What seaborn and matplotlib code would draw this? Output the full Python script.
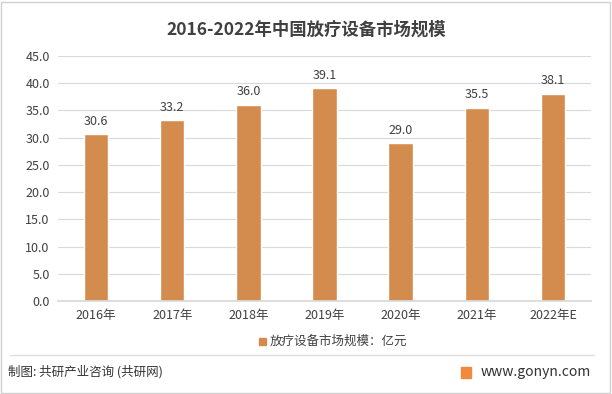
import matplotlib
matplotlib.use("Agg")
import matplotlib.pyplot as plt
import seaborn as sns
import pandas as pd
from matplotlib.patches import Rectangle
from matplotlib.lines import Line2D

categories = ["2016年", "2017年", "2018年", "2019年", "2020年", "2021年", "2022年E"]
values = [30.6, 33.2, 36.0, 39.1, 29.0, 35.5, 38.1]
yticks = [0, 5, 10, 15, 20, 25, 30, 35, 40, 45]
series_name = "放疗设备市场规模：亿元"
title = "2016-2022年中国放疗设备市场规模"

sns.set_theme(style="white")
plt.rcParams['font.family'] = ['Noto Sans CJK SC', 'DejaVu Sans']

bar_color = "#D48C4E"
text_color = "#404040"

df = pd.DataFrame({"year": categories, "value": values})

fig = plt.figure(figsize=(6.12, 3.94), dpi=100)
ax = fig.add_axes([58/612, 1-301/394, (591-58)/612, (301-56)/394])
sns.barplot(data=df, x="year", y="value", color=bar_color, width=0.32,
            saturation=1, ax=ax)
ax.set_ylim(0, 45)
ax.set_yticks(yticks)
ax.set_yticklabels([f"{v:.1f}" for v in yticks], fontsize=9, color=text_color)
ax.set_xticklabels(categories, fontsize=9, color=text_color)
ax.set_xlabel("")
ax.set_ylabel("")
ax.grid(axis="y", color="#D9D9D9", linewidth=0.8)
ax.set_axisbelow(True)
for s in ["top", "right", "left"]:
    ax.spines[s].set_visible(False)
ax.spines["bottom"].set_color("#D9D9D9")
ax.tick_params(axis="both", length=0, pad=6)

for p, v in zip(ax.patches, values):
    ax.text(p.get_x() + p.get_width()/2, v + 1.2, f"{v:.1f}", ha="center",
            va="bottom", fontsize=9, color=text_color)

fig.text(0.5, 1-30/394, title, ha="center", va="center", fontsize=12.5,
         fontweight="bold", color=text_color)

# legend
fig.patches.append(Rectangle((259/612, 1-345/394), 7/612, 7/394,
                             transform=fig.transFigure, color=bar_color))
fig.text(270/612, 1-341/394, series_name, ha="left", va="center",
         fontsize=9, color=text_color)

# outer border and footer separator
fig.patches.append(Rectangle((1/612, 1/394), 609/612, 391/394, transform=fig.transFigure,
                             fill=False, edgecolor="#D0D0D0", linewidth=1))
fig.lines.append(Line2D([10/612, 594/612], [1-355/394, 1-355/394], transform=fig.transFigure,
                        color="#E0E0E0", linewidth=1))
fig.text(8/612, 1-372/394, "制图: 共研产业咨询 (共研网)", ha="left", va="center",
         fontsize=9, color="#333333")
fig.patches.append(Rectangle((461/612, 1-378/394), 10/612, 11/394,
                             transform=fig.transFigure, color="#F08A3C"))
fig.text(481/612, 1-372/394, "www.gonyn.com", ha="left", va="center",
         fontsize=10, color="#333333")

fig.savefig("out.png", dpi=100)
